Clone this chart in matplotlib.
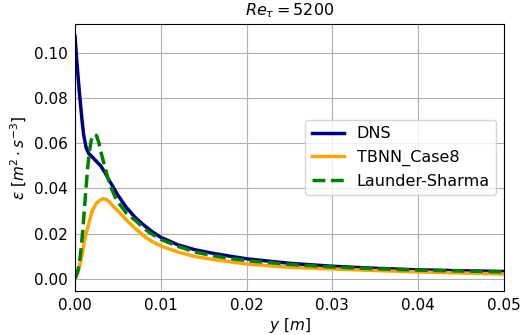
import numpy as np
import matplotlib
matplotlib.use("Agg")
import matplotlib.pyplot as plt

# dissipation profiles near the wall, Re_tau = 5200
y_dns = [0.0, 0.0002, 0.0005, 0.0008, 0.0010, 0.0013, 0.0016, 0.0020, 0.0025,
         0.0030, 0.0035, 0.0040, 0.0050, 0.0060, 0.0070, 0.0080, 0.0090, 0.0100,
         0.0120, 0.0140, 0.0160, 0.0180, 0.0200, 0.0250, 0.0300, 0.0350, 0.0400,
         0.0450, 0.0500]
eps_dns = [0.1075, 0.097, 0.083, 0.071, 0.064, 0.058, 0.0555, 0.054, 0.052,
           0.050, 0.047, 0.0435, 0.037, 0.0315, 0.0272, 0.0238, 0.0208, 0.0183,
           0.015, 0.0128, 0.0113, 0.0100, 0.0088, 0.0068, 0.0055, 0.0046, 0.0039,
           0.0035, 0.0032]

y_tbnn = [0.0, 0.0003, 0.0005, 0.0008, 0.0011, 0.0014, 0.0017, 0.0020, 0.0025,
          0.0030, 0.0033, 0.0037, 0.0040, 0.0046, 0.0052, 0.0060, 0.0070, 0.0080,
          0.0090, 0.0100, 0.0120, 0.0140, 0.0160, 0.0180, 0.0200, 0.0250, 0.0300,
          0.0350, 0.0400, 0.0450, 0.0500]
eps_tbnn = [0.0, 0.0025, 0.005, 0.010, 0.0168, 0.0215, 0.0258, 0.030, 0.0335,
            0.035, 0.0355, 0.035, 0.034, 0.0315, 0.0293, 0.026, 0.0223, 0.0190,
            0.0164, 0.0145, 0.0118, 0.0098, 0.0086, 0.0075, 0.0065, 0.0050, 0.0043,
            0.0036, 0.0030, 0.0025, 0.0021]

y_ls = [0.0, 0.0001, 0.0003, 0.0005, 0.0007, 0.0009, 0.0011, 0.0013, 0.0015,
        0.0017, 0.0019, 0.00225, 0.0025, 0.0028, 0.0031, 0.0034, 0.0038, 0.0042,
        0.0047, 0.0052, 0.0060, 0.0071, 0.0080, 0.0087, 0.0100, 0.0120, 0.0140,
        0.0160, 0.0180, 0.0200, 0.0250, 0.0300, 0.0350, 0.0400, 0.0450, 0.0500]
eps_ls = [0.0, 0.001, 0.003, 0.0064, 0.013, 0.021, 0.031, 0.041, 0.050,
          0.057, 0.0615, 0.064, 0.0635, 0.060, 0.055, 0.0508, 0.045, 0.0404,
          0.036, 0.033, 0.029, 0.0256, 0.0225, 0.0204, 0.0174, 0.0143, 0.0118,
          0.0102, 0.0090, 0.0080, 0.0063, 0.0052, 0.0044, 0.0038, 0.0034, 0.0030]

plt.rcParams['font.size'] = 11
fig = plt.figure(figsize=(5.3, 3.35), dpi=100)
ax = fig.add_axes([0.1415, 0.132, 0.8095, 0.796])

ax.plot(y_dns, eps_dns, color='navy', lw=2.5, label='DNS')
ax.plot(y_tbnn, eps_tbnn, color='orange', lw=2.5, label='TBNN_Case8')
ax.plot(y_ls, eps_ls, color='green', lw=2.5, ls='--', label='Launder-Sharma')

ax.set_xlim(0, 0.05)
ax.set_xticks(np.arange(0, 0.051, 0.01))
ax.set_yticks(np.arange(0, 0.101, 0.02))
ax.tick_params(length=0, pad=5)
ax.grid(True)
ax.set_xlabel(r'$y\ [m]$', labelpad=2)
ax.set_ylabel(r'$\epsilon\ [m^2 \cdot s^{-3}]$')
ax.set_title(r'$Re_{\tau} = 5200$', fontsize=11.5)
ax.legend(loc='center right', fontsize=11.5)

fig.savefig('out.png', dpi=100)
